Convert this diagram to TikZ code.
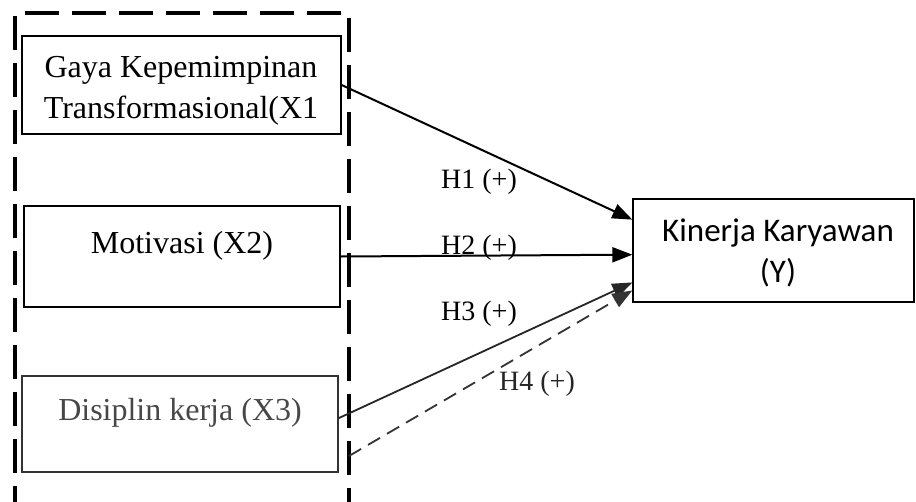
\documentclass[tikz,border=0pt]{standalone}
\usepackage{fontspec}
\setmainfont{Liberation Serif}
\newfontfamily\calib{Carlito}
\usetikzlibrary{arrows.meta,calc}
\begin{document}
\begin{tikzpicture}[x=1pt,y=-1pt,
  box/.style={draw,line width=1.3pt,inner sep=0pt},
  txt/.style={font=\fontsize{32}{41}\selectfont,anchor=base,inner sep=0pt,align=center},
  hlab/.style={font=\fontsize{28}{32}\selectfont,inner sep=0pt},
  arr/.style={line width=2pt,-{Triangle[length=20pt,width=15pt]}}]
\useasboundingbox (0,0) rectangle (916,501);
\begin{scope}
\clip (0,0) rectangle (916,501);
\draw[line width=4.5pt,dash pattern=on 34pt off 13pt] (15,520) -- (15,13) -- (349,13) -- (349,520);
\end{scope}
% boxes
\node[box,minimum width=319pt,minimum height=98pt] (X1) at (181.5,85) {};
\node[box,minimum width=316pt,minimum height=101pt] (X2) at (182,256.5) {};
\node[box,draw=black!80,minimum width=316pt,minimum height=96pt] (X3) at (180,424) {};
\node[box,minimum width=281pt,minimum height=103pt] (Y) at (773.5,250.5) {};
% texts
\node[txt] (t1) at (181,118) {Gaya Kepemimpinan\\Transformasional(X1};
\node[txt] (t2) at (182,253) {Motivasi (X2)};
\node[txt,text=black!72] (t3) at (180,420) {Disiplin kerja (X3)};
\node[txt,font=\calib\fontsize{33}{41}\selectfont] (ty) at (778,282) {Kinerja Karyawan\\(Y)};
% connector endpoints
\coordinate (y1) at ($(Y.north west)!0.204!(Y.south west)$);
\coordinate (y2) at ($(Y.north west)!0.54!(Y.south west)$);
\coordinate (y3) at ($(Y.north west)!0.806!(Y.south west)$);
\coordinate (y4) at ($(Y.north west)!0.883!(Y.south west)$);
\coordinate (s3) at ($(X3.north east)!0.44!(X3.south east)$);
\coordinate (s4) at (349,456);
% arrows
\draw[arr] (X1.east) -- (y1);
\draw[arr] (X2.east) -- (y2);
\draw[arr,line width=1.8pt,draw=black!85] (s3) -- (y3);
\draw[arr,line width=1.8pt,draw=black!80,dash pattern=on 14pt off 8pt] (s4) -- (y4);
% labels
\node[hlab] (h1) at (479,182) {H1 (+)};
\node[hlab] (h2) at (479,248) {H2 (+)};
\node[hlab] (h3) at (479,314) {H3 (+)};
\node[hlab,text=black!85] (h4) at (537,384) {H4 (+)};
\end{tikzpicture}
\end{document}
